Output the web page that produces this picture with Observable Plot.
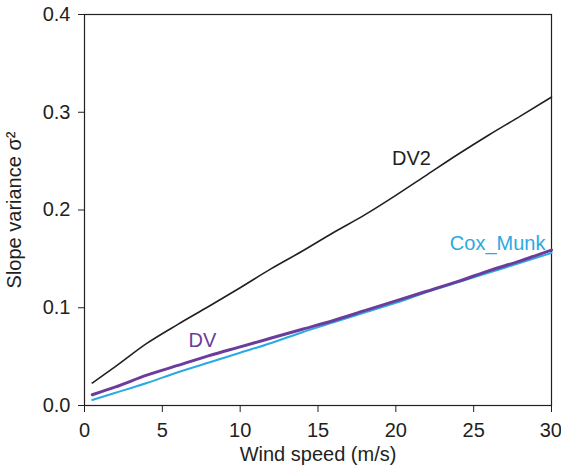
<!DOCTYPE html>
<html>
<head>
<meta charset="utf-8">
<script src="https://cdn.jsdelivr.net/npm/d3@7"></script>
<script src="https://cdn.jsdelivr.net/npm/@observablehq/plot@0.6"></script>
<style>
  html, body { margin: 0; padding: 0; background: #fff; }
  svg text { font-family: "Liberation Sans", Arial, Helvetica, sans-serif; }
</style>
</head>
<body>
<div id="chart"></div>
<script>
// Wind speed samples (m/s)
const windSpeed = [0.5, 2, 4, 6, 8, 10, 12, 14, 16, 18, 20, 22, 24, 26, 28, 30];

// Slope variance for each model
const dv2 = [0.023, 0.040, 0.0635, 0.083, 0.1015, 0.1205, 0.140, 0.158, 0.177, 0.195, 0.215, 0.236, 0.257, 0.277, 0.296, 0.3155];
const dv = [0.011, 0.019, 0.031, 0.041, 0.051, 0.060, 0.069, 0.078, 0.087, 0.097, 0.107, 0.117, 0.127, 0.138, 0.148, 0.159];
const coxMunk = [0.0056, 0.013, 0.023, 0.034, 0.044, 0.054, 0.064, 0.075, 0.085, 0.095, 0.105, 0.116, 0.126, 0.136, 0.146, 0.156];

const xTicks = [0, 5, 10, 15, 20, 25, 30];
const yTicks = [0, 0.1, 0.2, 0.3, 0.4];

const ink = "#231f20";
const purple = "#6b3c9b";
const cyan = "#2aaae2";
const fs = 20;

const rows = (ys) => windSpeed.map((x, i) => ({x, y: ys[i]}));

const chart = Plot.plot({
  width: 561,
  height: 471,
  marginLeft: 84,
  marginRight: 10,
  marginTop: 14,
  marginBottom: 66,
  style: {fontSize: fs + "px", fontFamily: "'Liberation Sans', Arial, sans-serif", color: ink},
  x: {domain: [0, 30]},
  y: {domain: [0, 0.4]},
  marks: [
    Plot.frame({stroke: ink, strokeWidth: 1.2}),
    // Ticks only; tick labels drawn separately so the last one stays inside the page
    Plot.axisX({ticks: xTicks, tickSize: 7, text: null, stroke: ink, label: null}),
    Plot.axisX({ticks: xTicks.slice(0, -1), tickSize: 0, tickPadding: 17, fontSize: fs,
      label: "Wind speed (m/s)", labelAnchor: "center", labelArrow: "none", labelOffset: 55}),
    Plot.axisX({ticks: xTicks.slice(-1), tickSize: 0, tickPadding: 17, fontSize: fs,
      textAnchor: "end", dx: 10.5, label: null}),
    Plot.axisY({ticks: yTicks, tickSize: 6, tickPadding: 8, fontSize: fs, tickFormat: d3.format(".1f"),
      label: "Slope variance σ²", labelAnchor: "center", labelArrow: "none", labelOffset: 78, stroke: ink}),
    Plot.line(rows(coxMunk), {x: "x", y: "y", stroke: cyan, strokeWidth: 2, curve: "monotone-x"}),
    Plot.line(rows(dv), {x: "x", y: "y", stroke: purple, strokeWidth: 3, curve: "monotone-x"}),
    Plot.line(rows(dv2), {x: "x", y: "y", stroke: ink, strokeWidth: 1.6, curve: "monotone-x"}),
    // Series labels
    Plot.text(["DV2"], {x: 21.0, y: 0.2527, text: d => d, fill: ink, fontSize: fs}),
    Plot.text(["DV"], {x: 7.58, y: 0.0665, text: d => d, fill: purple, fontSize: fs}),
    Plot.text(["Cox_Munk"], {x: 29.61, y: 0.1657, text: d => d, fill: cyan, fontSize: fs, textAnchor: "end"})
  ]
});

document.getElementById("chart").appendChild(chart);
</script>
</body>
</html>
